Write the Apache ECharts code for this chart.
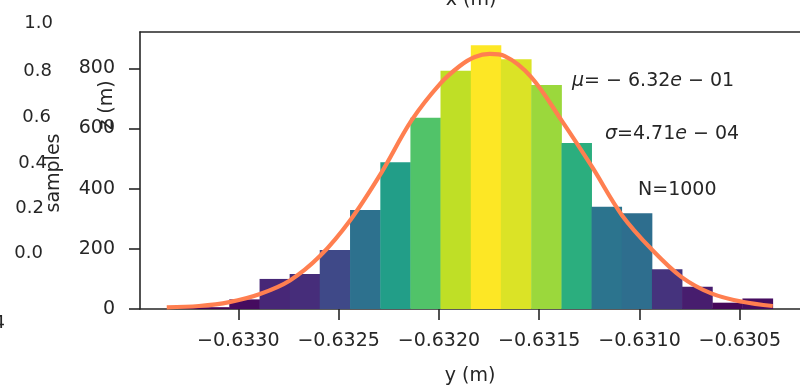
<!DOCTYPE html>
<html>
<head>
<meta charset="utf-8">
<script src="https://cdn.jsdelivr.net/npm/echarts@6/dist/echarts.min.js"></script>
<style>
html,body{margin:0;padding:0;background:#fff;}
#c{width:800px;height:387px;}
</style>
</head>
<body>
<div id="c"></div>
<script>
// ---- data ----
const binEdges = [-0.633346, -0.633196, -0.633045, -0.632894, -0.632744, -0.632594, -0.632443,
  -0.632292, -0.632142, -0.631992, -0.631841, -0.631691, -0.631540, -0.631389, -0.631239,
  -0.631089, -0.630938, -0.630788, -0.630637, -0.630487, -0.630336];
const binHeights = [4, 6, 32, 100, 116, 196, 329, 488, 636, 792, 877, 830, 745, 552, 340, 318, 132, 74, 21, 35];
const curveX = [-0.6333566, -0.633196, -0.6330448, -0.6328919, -0.6327425, -0.6325931, -0.6324402,
  -0.6322879, -0.6321365, -0.6319955, -0.6318959, -0.6318212, -0.6317465, -0.6316719, -0.6315409,
  -0.6313895, -0.6312371, -0.6310877, -0.6309363, -0.6307919, -0.6306425, -0.6304881, -0.6303357];
const curveY = [5.7, 10, 23, 50, 95, 176, 297, 452, 627, 748, 808, 838, 848, 841, 772, 628, 473, 312, 196, 107, 52, 24, 10];
const xTicks = [-0.6330, -0.6325, -0.6320, -0.6315, -0.6310, -0.6305];
const yTicks = [0, 200, 400, 600, 800];
const statMu = '-6.32e-01';
const statSigma = '4.71e-04';
const statN = 1000;

// ---- viridis colormap (style) ----
const viridis = ['#440154','#482475','#414487','#355f8d','#2a788e','#21918c','#22a884','#44bf70','#7ad151','#bddf26','#fde725'];
function hex2rgb(h){return [parseInt(h.slice(1,3),16),parseInt(h.slice(3,5),16),parseInt(h.slice(5,7),16)];}
function cmap(t){
  t = Math.max(0, Math.min(1, t));
  const p = t * (viridis.length - 1);
  const i = Math.min(Math.floor(p), viridis.length - 2);
  const f = p - i;
  const a = hex2rgb(viridis[i]), b = hex2rgb(viridis[i+1]);
  const c = a.map((v,k)=>Math.round(v + (b[k]-v)*f));
  return 'rgb(' + c.join(',') + ')';
}
const hMax = Math.max(...binHeights), hMin = Math.min(...binHeights);

const barData = binHeights.map((h,i)=>[binEdges[i], binEdges[i+1], h]);
const lineData = curveX.map((x,i)=>[x, curveY[i]]);

const FONT = 'DejaVu Sans';
const FS = 19;
const TXT = '#262626';
const fmtMinus = s => String(s).replace(/-/g, ' − ');

const chart = echarts.init(document.getElementById('c'), null, {renderer:'canvas'});
chart.setOption({
  animation: false,
  backgroundColor: '#fff',
  grid: {left: 140, top: 32, width: 660, bottom: 78, containLabel: false, outerBoundsMode: 'none'},
  xAxis: [{
    type: 'value', min: -0.63349, max: -0.63020, position: 'bottom',
    axisLine: {show: true, onZero: false, lineStyle: {color: TXT, width: 1.6}},
    axisTick: {show: true, customValues: xTicks, length: 11, lineStyle: {color: TXT, width: 1.6}},
    axisLabel: {show: true, customValues: xTicks, margin: 23, fontSize: FS, fontFamily: FONT, color: TXT,
      formatter: v => v.toFixed(4).replace('-', '\u2212')},
    splitLine: {show: false},
    name: 'y (m)', nameLocation: 'middle', nameGap: 58,
    nameTextStyle: {fontSize: FS, fontFamily: FONT, color: TXT}
  }, {
    type: 'value', min: -0.63349, max: -0.63020, position: 'top',
    axisLine: {show: true, onZero: false, lineStyle: {color: TXT, width: 1.6}},
    axisTick: {show: false}, axisLabel: {show: false}, splitLine: {show: false}
  }],
  yAxis: {
    type: 'value', min: 0, max: 921,
    axisLine: {show: true, onZero: false, lineStyle: {color: TXT, width: 1.6}},
    axisTick: {show: true, customValues: yTicks, length: 11, lineStyle: {color: TXT, width: 1.6}},
    axisLabel: {show: true, customValues: yTicks, margin: 25, fontSize: FS, fontFamily: FONT, color: TXT},
    splitLine: {show: false}
  },
  series: [{
    type: 'custom',
    xAxisIndex: 0,
    data: barData,
    encode: {x: [0, 1], y: 2},
    renderItem: function(params, api){
      const x0 = api.value(0), x1 = api.value(1), h = api.value(2);
      const p0 = api.coord([x0, h]);
      const p1 = api.coord([x1, 0]);
      return {
        type: 'rect',
        shape: {x: p0[0], y: p0[1], width: p1[0] - p0[0] + 0.4, height: p1[1] - p0[1]},
        style: {fill: cmap((h - hMin) / (hMax - hMin)), stroke: null}
      };
    },
    z: 2
  }, {
    type: 'line',
    xAxisIndex: 0,
    data: lineData,
    smooth: 0.35,
    symbol: 'none',
    lineStyle: {color: '#ff7f50', width: 4.2},
    z: 3
  }],
  graphic: [
    {type: 'text', left: 572, top: 72, style: {
      text: '{i|μ}= ' + fmtMinus(statMu).trim().replace('e', '{i|e}'),
      fontSize: FS, fontFamily: FONT, fill: TXT,
      rich: {i: {fontStyle: 'italic', fontSize: FS, fontFamily: FONT}}}},
    {type: 'text', left: 605, top: 125, style: {
      text: '{i|σ}=' + statSigma.replace('e-', '{i|e} − '),
      fontSize: FS, fontFamily: FONT, fill: TXT,
      rich: {i: {fontStyle: 'italic', fontSize: FS, fontFamily: FONT}}}},
    {type: 'text', left: 638, top: 181, style: {
      text: 'N=' + statN, fontSize: FS, fontFamily: FONT, fill: TXT}},
    {type: 'text', x: 471, y: 0, style: {text: 'x (m)', fontSize: FS, fontFamily: FONT, fill: TXT, align: 'center', verticalAlign: 'middle'}},
    {type: 'text', x: 54, y: 173, rotation: Math.PI/2, style: {text: 'samples', fontSize: FS, fontFamily: FONT, fill: TXT, align: 'center', verticalAlign: 'middle'}},
    {type: 'text', x: 107, y: 105, rotation: Math.PI/2, style: {text: 'z (m)', fontSize: FS, fontFamily: FONT, fill: TXT, align: 'center', verticalAlign: 'middle'}},
    {type: 'text', x: 53, y: 23, style: {text: '1.0', fontSize: 18, fontFamily: FONT, fill: TXT, align: 'right', verticalAlign: 'middle'}},
    {type: 'text', x: 52, y: 71, style: {text: '0.8', fontSize: 18, fontFamily: FONT, fill: TXT, align: 'right', verticalAlign: 'middle'}},
    {type: 'text', x: 51, y: 117, style: {text: '0.6', fontSize: 18, fontFamily: FONT, fill: TXT, align: 'right', verticalAlign: 'middle'}},
    {type: 'text', x: 47, y: 163, style: {text: '0.4', fontSize: 18, fontFamily: FONT, fill: TXT, align: 'right', verticalAlign: 'middle'}},
    {type: 'text', x: 44, y: 208, style: {text: '0.2', fontSize: 18, fontFamily: FONT, fill: TXT, align: 'right', verticalAlign: 'middle'}},
    {type: 'text', x: 43, y: 253, style: {text: '0.0', fontSize: 18, fontFamily: FONT, fill: TXT, align: 'right', verticalAlign: 'middle'}},
    {type: 'text', x: 5, y: 323, style: {text: '4', fontSize: 18, fontFamily: FONT, fill: TXT, align: 'right', verticalAlign: 'middle'}}
  ]
});
</script>
</body>
</html>
